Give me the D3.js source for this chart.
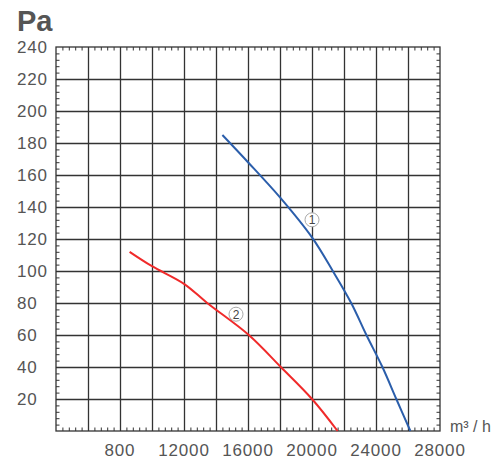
<!DOCTYPE html>
<html>
<head>
<meta charset="utf-8">
<script src="https://cdn.jsdelivr.net/npm/d3@7"></script>
<style>
  body { margin: 0; background: #fff; }
  svg { display: block; font-family: "Liberation Sans", Arial, sans-serif; }
  .lbl { fill: #555; font-size: 17px; letter-spacing: 0.8px; }
  .unit { fill: #555; font-size: 16px; }
  .minor line, .grid line { stroke: #333; }
  .minor path, .grid path { display: none; }
</style>
</head>
<body>
<svg id="chart" width="494" height="464"></svg>
<script>
// tick labels (the "800" typo is in the original)
const xTickValues = [8000, 12000, 16000, 20000, 24000, 28000];
const xTickLabels = ["800", "12000", "16000", "20000", "24000", "28000"];
const yTickValues = [20, 40, 60, 80, 100, 120, 140, 160, 180, 200, 220, 240];

// curve 1 (blue) : airflow m3/h, pressure Pa
const curve1Flow = [14400, 16000, 18000, 20000, 21300, 22450, 23400, 24400, 25270, 26150];
const curve1Pa   = [185, 168, 146, 121, 100, 80, 60, 40, 20, 0];

// curve 2 (red)
const curve2Flow = [8600, 10000, 12000, 13450, 16050, 18050, 20000, 21600];
const curve2Pa   = [112, 103, 92, 80, 60, 40, 20, 0];

// curve markers
const markerNames = ["1", "2"];
const markerFlow = [20000, 15250];
const markerPa = [132, 73];

const plotLeft = 56, plotRight = 440, plotTop = 47, plotBottom = 431;
const plotW = plotRight - plotLeft, plotH = plotBottom - plotTop;

const svg = d3.select("#chart");

const x = d3.scaleLinear().domain([4000, 28000]).range([plotLeft, plotRight]);
const y = d3.scaleLinear().domain([0, 240]).range([plotBottom, plotTop]);

// grid lines
svg.append("g")
  .attr("class", "grid")
  .attr("transform", `translate(0,${plotBottom})`)
  .call(d3.axisBottom(x).tickValues(d3.range(6000, 28000, 2000)).tickSize(-plotH).tickFormat(""))
  .selectAll("line").attr("stroke-width", 1.3);

svg.append("g")
  .attr("class", "grid")
  .attr("transform", `translate(${plotLeft},0)`)
  .call(d3.axisLeft(y).tickValues(d3.range(20, 240, 20)).tickSize(-plotW).tickFormat(""))
  .selectAll("line").attr("stroke-width", 1.3);

// minor ticks on all four sides, pointing inward
const xMinor = d3.range(4400, 28000, 400).filter(v => v % 2000 !== 0);
const yMinor = d3.range(4, 240, 4).filter(v => v % 20 !== 0);

svg.append("g").attr("class", "minor")
  .attr("transform", `translate(0,${plotBottom})`)
  .call(d3.axisBottom(x).tickValues(xMinor).tickSize(-3.5).tickFormat(""));
svg.append("g").attr("class", "minor")
  .attr("transform", `translate(0,${plotTop})`)
  .call(d3.axisTop(x).tickValues(xMinor).tickSize(-3.5).tickFormat(""));
svg.append("g").attr("class", "minor")
  .attr("transform", `translate(${plotLeft},0)`)
  .call(d3.axisLeft(y).tickValues(yMinor).tickSize(-3.5).tickFormat(""));
svg.append("g").attr("class", "minor")
  .attr("transform", `translate(${plotRight},0)`)
  .call(d3.axisRight(y).tickValues(yMinor).tickSize(-3.5).tickFormat(""));

// frame
svg.append("rect")
  .attr("x", plotLeft).attr("y", plotTop)
  .attr("width", plotW).attr("height", plotH)
  .attr("fill", "none").attr("stroke", "#333").attr("stroke-width", 1.3);

// curves
const line = d3.line()
  .x(d => x(d[0]))
  .y(d => y(d[1]))
  .curve(d3.curveCatmullRom);

svg.append("path")
  .datum(curve1Flow.map((f, i) => [f, curve1Pa[i]]))
  .attr("d", line)
  .attr("fill", "none")
  .attr("stroke", "#2b5eab")
  .attr("stroke-width", 2);

svg.append("path")
  .datum(curve2Flow.map((f, i) => [f, curve2Pa[i]]))
  .attr("d", line)
  .attr("fill", "none")
  .attr("stroke", "#f02a2a")
  .attr("stroke-width", 2);

// circled curve numbers
const mk = svg.selectAll(".marker")
  .data(markerNames)
  .join("g")
  .attr("class", "marker")
  .attr("transform", (d, i) => `translate(${x(markerFlow[i])},${y(markerPa[i])})`);
mk.append("circle")
  .attr("r", 7)
  .attr("fill", "#fff")
  .attr("stroke", "#aaa")
  .attr("stroke-width", 1);
mk.append("text")
  .attr("text-anchor", "middle")
  .attr("dy", "0.36em")
  .attr("fill", "#444")
  .attr("font-size", 12)
  .text(d => d);

// y labels, left aligned
svg.selectAll(".ylbl")
  .data(yTickValues)
  .join("text")
  .attr("class", "lbl ylbl")
  .attr("x", 17)
  .attr("y", d => y(d))
  .attr("dy", "0.36em")
  .text(d => d);

// x labels
svg.selectAll(".xlbl")
  .data(xTickValues)
  .join("text")
  .attr("class", "lbl xlbl")
  .attr("x", d => x(d))
  .attr("y", 456)
  .attr("text-anchor", "middle")
  .text((d, i) => xTickLabels[i]);

// units
svg.append("text")
  .attr("x", 17).attr("y", 31)
  .attr("fill", "#555")
  .attr("font-size", 29)
  .attr("font-weight", "bold")
  .text("Pa");

svg.append("text")
  .attr("class", "unit")
  .attr("x", 450).attr("y", 432)
  .text("m³ / h");
</script>
</body>
</html>
